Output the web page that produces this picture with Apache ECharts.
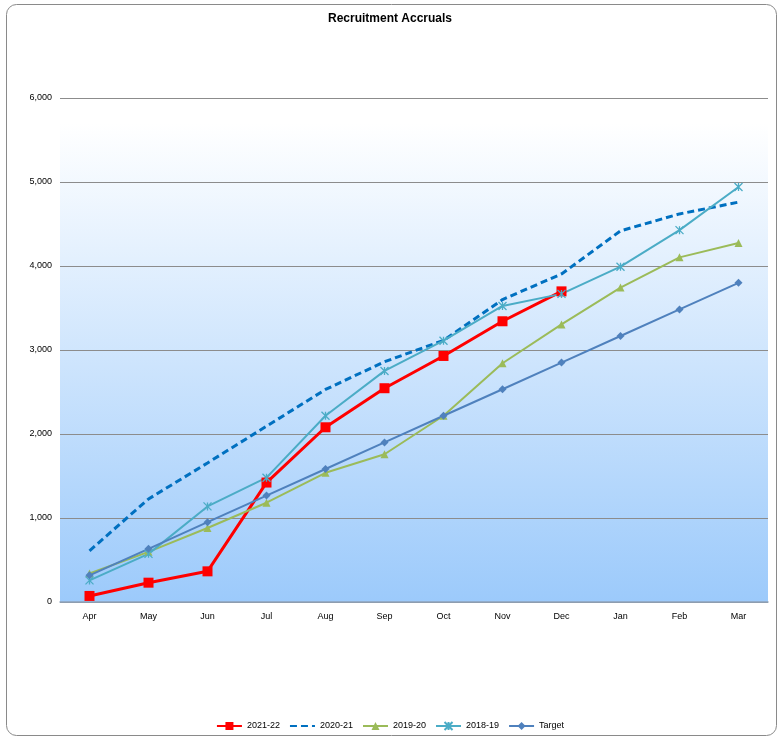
<!DOCTYPE html>
<html>
<head>
<meta charset="utf-8">
<script src="https://cdn.jsdelivr.net/npm/echarts@6/dist/echarts.min.js"></script>
<style>
  html, body { margin: 0; padding: 0; background: #fff; }
  #chart { width: 780px; height: 738px; }
</style>
</head>
<body>
<div id="chart"></div>
<script>
// Months of the recruitment year
var months = ['Apr', 'May', 'Jun', 'Jul', 'Aug', 'Sep', 'Oct', 'Nov', 'Dec', 'Jan', 'Feb', 'Mar'];

// Cumulative accruals per year
var acc2122 = [72, 230, 365, 1422, 2080, 2545, 2929, 3342, 3698];
var acc2021 = [610, 1226, 1655, 2093, 2530, 2860, 3115, 3600, 3905, 4418, 4620, 4760];
var acc1920 = [340, 597, 881, 1182, 1538, 1759, 2217, 2842, 3305, 3743, 4103, 4273];
var acc1819 = [257, 573, 1138, 1480, 2217, 2751, 3111, 3524, 3668, 3992, 4427, 4941];
var target  = [317, 633, 950, 1267, 1583, 1900, 2217, 2533, 2850, 3167, 3483, 3800];

var seriesNames = ['2021-22', '2020-21', '2019-20', '2018-19', 'Target'];
var yTicks = [0, 1000, 2000, 3000, 4000, 5000, 6000];

var FONT = '"Liberation Sans", Arial, sans-serif';
var asterisk = 'path://M0,0L10,10M10,0L0,10M5,0L5,10';

var chart = echarts.init(document.getElementById('chart'), null, { renderer: 'canvas' });

chart.setOption({
  animation: false,
  backgroundColor: '#ffffff',
  textStyle: { fontFamily: FONT },
  title: {
    text: 'Recruitment Accruals',
    left: 'center',
    top: 8,
    textStyle: { fontFamily: FONT, fontSize: 12, fontWeight: 'bold', color: '#000' }
  },
  graphic: [{
    type: 'rect',
    z: 100,
    silent: true,
    shape: { x: 6.5, y: 4.5, width: 770, height: 731, r: 10 },
    style: { fill: 'none', stroke: '#8a8a8a', lineWidth: 1 }
  }],
  legend: {
    data: [
      seriesNames[0],
      // dashed line only, no marker in the key
      { name: seriesNames[1], itemStyle: { color: 'rgba(0,0,0,0)', borderWidth: 0, opacity: 0 } },
      seriesNames[2],
      seriesNames[3],
      seriesNames[4]
    ],
    bottom: 2,
    left: 'center',
    itemWidth: 25,
    itemHeight: 10,
    itemGap: 9,
    textStyle: { fontFamily: FONT, fontSize: 9, color: '#000' }
  },
  grid: {
    left: 60, right: 12, top: 98, bottom: 136,
    show: true,
    borderWidth: 0,
    backgroundColor: {
      type: 'linear', x: 0, y: 0, x2: 0, y2: 1,
      colorStops: [
        { offset: 0, color: '#ffffff' },
        { offset: 0.05, color: '#ffffff' },
        { offset: 1, color: '#9ccafb' }
      ]
    }
  },
  xAxis: {
    type: 'category',
    data: months,
    boundaryGap: true,
    axisLine: { lineStyle: { color: '#8fa2bb', width: 1.5 } },
    axisTick: { show: false },
    axisLabel: { fontFamily: FONT, fontSize: 9, color: '#000', margin: 10 }
  },
  yAxis: {
    type: 'value',
    min: yTicks[0],
    max: yTicks[yTicks.length - 1],
    interval: 1000,
    axisLine: { show: false },
    axisTick: { show: false },
    splitLine: { lineStyle: { color: '#8c8c8c', width: 1.2 } },
    axisLabel: {
      fontFamily: FONT, fontSize: 9, color: '#000', margin: 8,
      formatter: function (v) { return v.toLocaleString('en-US'); }
    }
  },
  series: [
    {
      name: seriesNames[0], type: 'line', data: acc2122,
      symbol: 'rect', symbolSize: 10,
      lineStyle: { color: '#ff0000', width: 3 },
      itemStyle: { color: '#ff0000' }
    },
    {
      name: seriesNames[1], type: 'line', data: acc2021,
      symbol: 'none',
      lineStyle: { color: '#0070c0', width: 3, type: [7, 4] },
      itemStyle: { color: '#0070c0' }
    },
    {
      name: seriesNames[2], type: 'line', data: acc1920,
      symbol: 'triangle', symbolSize: 8,
      lineStyle: { color: '#9bbb59', width: 2 },
      itemStyle: { color: '#9bbb59' }
    },
    {
      name: seriesNames[3], type: 'line', data: acc1819,
      symbol: asterisk, symbolSize: 8,
      lineStyle: { color: '#4bacc6', width: 2 },
      itemStyle: { color: '#4bacc6', borderColor: '#4bacc6', borderWidth: 1.3 }
    },
    {
      name: seriesNames[4], type: 'line', data: target,
      symbol: 'diamond', symbolSize: 8,
      lineStyle: { color: '#4f81bd', width: 2 },
      itemStyle: { color: '#4f81bd' }
    }
  ]
});
</script>
</body>
</html>
